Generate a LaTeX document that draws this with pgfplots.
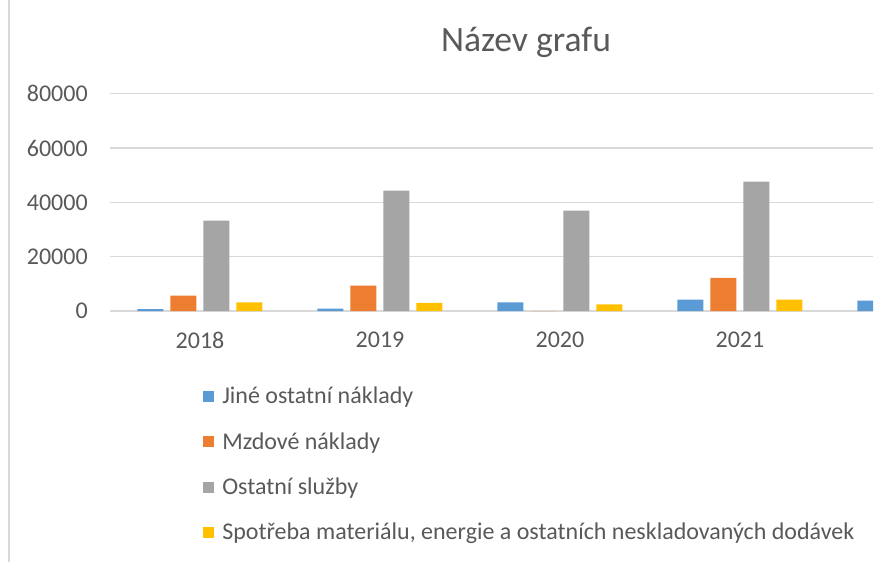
\documentclass[border=0pt]{standalone}
\usepackage{pgfplots}
\pgfplotsset{compat=1.18}
\usepackage{fontspec}
\setmainfont{Carlito}
\definecolor{cblue}{HTML}{5B9BD5}
\definecolor{corange}{HTML}{ED7D31}
\definecolor{cgrey}{HTML}{A5A5A5}
\definecolor{cyellow}{HTML}{FFC000}
\definecolor{gridgrey}{HTML}{D9D9D9}
\definecolor{txtgrey}{HTML}{595959}
\begin{document}
\begin{tikzpicture}
\path[use as bounding box] (0,0) rectangle (656.25pt,421.5pt);
\draw[color=gridgrey, line width=1.1pt] (6.75pt,0) -- (6.75pt,421.5pt);
\node[font=\fontsize{26.7}{32}\selectfont, text=txtgrey] at (394.5pt,390pt) {Název grafu};
\begin{axis}[
  at={(82.5pt,188.25pt)}, anchor=south west,
  scale only axis, width=572.25pt, height=163pt,
  xmin=-0.5, xmax=3.739, ymin=0, ymax=80000,
  ybar=5.25pt, bar width=19.5pt,
  ytick={0,20000,40000,60000,80000},
  xtick={0,1,2,3}, xticklabels={2018,2019,2020,2021},
  scaled y ticks=false,
  /pgf/number format/assume math mode=true,
  /pgf/number format/set thousands separator={},
  axis line style={draw=none},
  major tick length=0pt,
  ymajorgrids, major grid style={color=gridgrey, line width=1.1pt},
  tick label style={font=\fontsize{18}{21}\selectfont, text=txtgrey},
  yticklabel style={anchor=east, inner sep=0pt, xshift=-16.5pt},
  xticklabel style={anchor=center, inner sep=0pt, yshift=-21.75pt},
  legend image code/.code={\fill[#1] (0pt,-4.1pt) rectangle (8.25pt,4.1pt);},
  legend cell align=left,
  legend style={at={(axis description cs:0.1219,-0.349)}, anchor=north west,
    draw=none, fill=none, font=\fontsize{18}{21}\selectfont, text=txtgrey,
    row sep=20pt, column sep=6pt, inner sep=0pt, nodes={inner sep=0pt, anchor=west}},
]
\addplot[fill=cblue, draw=none] coordinates {(0,650) (1,880) (2,3200) (3,4200) (4,3830)};
\addplot[fill=corange, draw=none] coordinates {(0,5670) (1,9350) (2,0) (3,12150)};
\addplot[fill=cgrey, draw=none] coordinates {(0,33280) (1,44340) (2,36970) (3,47650)};
\addplot[fill=cyellow, draw=none] coordinates {(0,3200) (1,2950) (2,2470) (3,4200)};
\legend{Jiné ostatní náklady, Mzdové náklady, Ostatní služby, {Spotřeba materiálu, energie a ostatních neskladovaných dodávek}}
\end{axis}
\end{tikzpicture}
\end{document}
